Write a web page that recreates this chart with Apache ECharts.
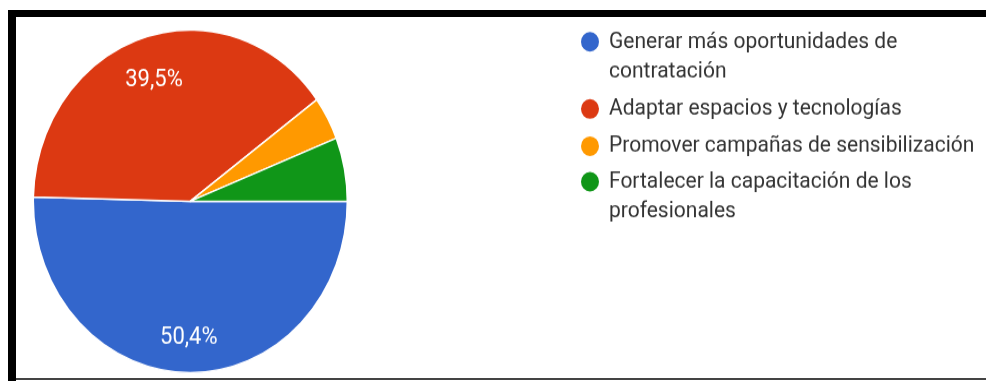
<!DOCTYPE html>
<html>
<head>
<meta charset="utf-8">
<script src="https://cdn.jsdelivr.net/npm/echarts@6/dist/echarts.min.js"></script>
<style>
  html, body { margin: 0; padding: 0; background: #fff; }
  #frame { position: absolute; left: 0; top: 0; width: 986px; height: 381px; overflow: hidden; background: #fff; }
  /* the chart is laid out in a shorter box and stretched vertically */
  #chart { position: absolute; left: 0; top: 0; width: 986px; height: 349px; transform: scaleY(1.0914); transform-origin: 0 0; }
  .edge { position: absolute; }
</style>
</head>
<body>
<div id="frame">
  <div id="chart"></div>
  <div class="edge" style="left:8px;top:10px;width:978px;height:7px;background:#000"></div>
  <div class="edge" style="left:8px;top:10px;width:8px;height:371px;background:#000"></div>
  <div class="edge" style="left:16px;top:378px;width:970px;height:2px;background:#444"></div>
</div>
<script>
// Survey answers and their share of responses (%)
const categories = [
  'Generar más oportunidades de contratación',
  'Adaptar espacios y tecnologías',
  'Promover campañas de sensibilización',
  'Fortalecer la capacitación de los profesionales'
];
const shares = [50.4, 39.5, 4.1, 6.0];
const colors = ['#3366cc', '#dc3912', '#ff9900', '#109618'];

const FONT = 'Roboto, Arial, sans-serif';
const LEGEND_SIZE = 21;
const LINE = 27.5;
const WRAP = 385;

// measure which legend labels will break onto a second line
const measure = document.createElement('canvas').getContext('2d');
measure.font = LEGEND_SIZE + 'px Roboto';
const wraps = {};
categories.forEach(n => { wraps[n] = measure.measureText(n).width > WRAP; });

const slices = categories.map((name, i) => ({ name, value: shares[i], itemStyle: { color: colors[i] } }));

const legendBase = {
  orient: 'vertical',
  left: 579,
  padding: 0,
  itemGap: 6.6,
  itemWidth: 20,
  itemHeight: 20,
  icon: 'circle',
  selectedMode: false,
  // a blank leading line keeps the dot level with the first line of wrapped labels
  formatter: name => (wraps[name] ? '\n' : '') + name,
  textStyle: {
    fontFamily: FONT,
    fontSize: LEGEND_SIZE,
    color: '#333',
    lineHeight: LINE,
    width: WRAP,
    overflow: 'break',
    padding: [0, 0, 0, 4]
  }
};

const chart = echarts.init(document.getElementById('chart'), null, { renderer: 'canvas' });
chart.setOption({
  animation: false,
  backgroundColor: 'transparent',
  legend: [
    Object.assign({}, legendBase, { top: -3, data: categories.slice(0, 3) }),
    Object.assign({}, legendBase, { top: 125.25, data: categories.slice(3) })
  ],
  series: [
    {
      type: 'pie',
      center: [190.3, 184.4],
      radius: 157,
      startAngle: 0,
      clockwise: true,
      silent: true,
      label: { show: false },
      labelLine: { show: false },
      itemStyle: { borderColor: '#fff', borderWidth: 1.5 },
      data: slices
    },
    {
      // transparent ring that carries the percentage labels
      type: 'pie',
      center: [190.3, 184.4],
      radius: [79, 157],
      startAngle: 0,
      clockwise: true,
      silent: true,
      minShowLabelAngle: 30,
      itemStyle: { color: 'rgba(0,0,0,0)', borderWidth: 0 },
      labelLine: { show: false },
      labelLayout: { dy: 4.5 },
      label: {
        show: true,
        position: 'inside',
        color: '#fff',
        fontFamily: FONT,
        fontSize: 22,
        formatter: p => p.value.toFixed(1).replace('.', ',') + '%'
      },
      data: categories.map((name, i) => ({ name, value: shares[i] }))
    }
  ]
});
</script>
</body>
</html>
